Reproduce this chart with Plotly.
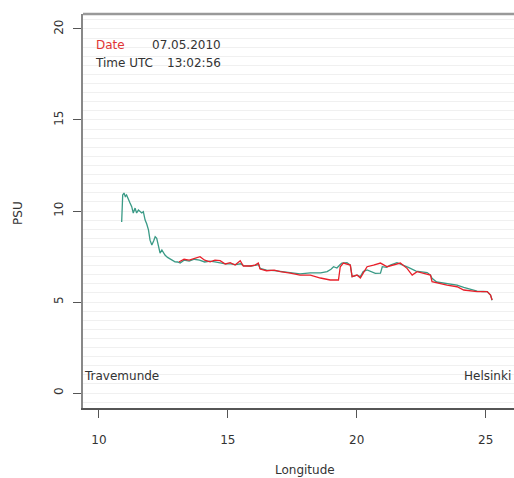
import plotly.graph_objects as go

# Teal track (longitude, salinity PSU)
lon_teal = [10.88, 10.90, 10.92, 10.97, 11.02, 11.07, 11.14, 11.20, 11.27, 11.33,
            11.40, 11.46, 11.53, 11.60, 11.66, 11.72, 11.79, 11.85, 11.92, 11.98,
            12.05, 12.12, 12.18, 12.24, 12.30, 12.37, 12.44, 12.50, 12.56, 12.66,
            12.76, 12.85, 12.95, 13.05, 13.15, 13.30, 13.50, 13.70, 13.90, 14.10,
            14.30, 14.50, 14.70, 14.90, 15.10, 15.30, 15.50, 15.60, 15.90, 16.10,
            16.20, 16.25, 16.50, 16.80, 17.00, 17.40, 17.80, 18.20, 18.60, 18.85,
            19.00, 19.10, 19.23, 19.35, 19.42, 19.62, 19.75, 19.82, 20.01, 20.14,
            20.25, 20.40, 20.55, 20.72, 20.92, 20.99, 21.15, 21.30, 21.56, 21.82,
            22.00, 22.30, 22.50, 22.73, 22.86, 22.92, 23.10, 23.37, 23.60, 23.89,
            24.15, 24.40, 24.67, 24.90, 25.06, 25.19, 25.25]
psu_teal = [9.40, 10.60, 10.88, 10.99, 10.80, 10.88, 10.60, 10.45, 10.24, 9.89,
            10.16, 9.89, 10.05, 9.95, 9.89, 9.96, 9.50, 9.30, 8.96, 8.40,
            8.13, 8.35, 8.59, 8.50, 8.04, 7.69, 7.86, 7.70, 7.58, 7.45,
            7.36, 7.30, 7.21, 7.20, 7.14, 7.30, 7.25, 7.35, 7.30, 7.20,
            7.25, 7.20, 7.15, 7.10, 7.10, 7.05, 7.10, 7.00, 6.98, 7.00,
            7.05, 6.85, 6.75, 6.72, 6.68, 6.62, 6.55, 6.60, 6.60, 6.67,
            6.80, 6.94, 6.87, 7.05, 7.14, 7.16, 7.03, 6.39, 6.48, 6.40,
            6.67, 6.76, 6.65, 6.57, 6.59, 6.94, 6.90, 7.03, 7.16, 7.03,
            6.90, 6.70, 6.65, 6.62, 6.48, 6.30, 6.10, 6.04, 6.00, 5.93,
            5.80, 5.70, 5.60, 5.58, 5.57, 5.38, 5.10]

# Red track
lon_red = [13.10, 13.30, 13.50, 13.70, 13.92, 14.10, 14.31, 14.50, 14.70, 14.90,
           15.09, 15.28, 15.48, 15.60, 15.87, 16.06, 16.18, 16.25, 16.50, 16.80,
           17.03, 17.42, 17.80, 18.20, 18.59, 18.97, 19.29, 19.36, 19.48, 19.75,
           19.82, 20.01, 20.14, 20.25, 20.40, 20.65, 20.92, 21.18, 21.43, 21.69,
           21.95, 22.15, 22.34, 22.59, 22.86, 22.92, 23.12, 23.50, 23.89, 24.15,
           24.67, 25.06, 25.19, 25.25]
psu_red = [7.20, 7.35, 7.30, 7.40, 7.49, 7.30, 7.21, 7.30, 7.27, 7.09,
           7.16, 7.03, 7.27, 6.98, 6.98, 7.03, 7.14, 6.81, 6.72, 6.75,
           6.67, 6.59, 6.48, 6.48, 6.32, 6.21, 6.21, 6.94, 7.14, 7.03,
           6.39, 6.48, 6.32, 6.59, 6.94, 7.03, 7.14, 6.94, 7.03, 7.14,
           6.85, 6.48, 6.67, 6.59, 6.48, 6.12, 6.04, 5.93, 5.84, 5.66,
           5.57, 5.57, 5.38, 5.11]

x_ticks = [10, 15, 20, 25]
y_ticks = [0, 5, 10, 15, 20]

FONT = "DejaVu Sans"
TXT = "#333333"

fig = go.Figure()
fig.add_trace(go.Scatter(x=lon_teal, y=psu_teal, mode="lines",
                         line=dict(color="#3a9a86", width=1.3), hoverinfo="skip"))
fig.add_trace(go.Scatter(x=lon_red, y=psu_red, mode="lines",
                         line=dict(color="#e8202a", width=1.3), hoverinfo="skip"))

fig.update_layout(
    width=514, height=478,
    margin=dict(l=83, r=0, t=14, b=70),
    paper_bgcolor="white", plot_bgcolor="white",
    showlegend=False,
    font=dict(family=FONT, size=12, color=TXT),
    xaxis=dict(range=[9.38, 26.10], tickvals=x_ticks, ticks="outside", ticklen=8,
               tickcolor="#555", showgrid=False, zeroline=False,
               showline=True, linecolor="#555", linewidth=1.5,
               tickfont=dict(family=FONT, size=12, color=TXT), ticklabelstandoff=12),
    yaxis=dict(range=[-0.82, 20.82], tickvals=y_ticks, ticks="outside", ticklen=8,
               tickcolor="#555", tickangle=-90, zeroline=False,
               showgrid=True, gridcolor="#f0f0f0", gridwidth=1,
               minor=dict(dtick=0.5, tick0=0, showgrid=True, gridcolor="#f0f0f0", gridwidth=1),
               showline=True, linecolor="#888", linewidth=2,
               tickfont=dict(family=FONT, size=12, color=TXT), ticklabelstandoff=5),
)

fig.add_shape(type="line", xref="paper", yref="paper", x0=0, x1=1, y0=1, y1=1,
              line=dict(color="#999", width=2.5))

ann = [
    dict(text="Date", x=9.845, y=19.12, xanchor="left", font=dict(color="#e03535")),
    dict(text="07.05.2010", x=12.02, y=19.12, xanchor="left"),
    dict(text="Time UTC", x=9.81, y=18.13, xanchor="left"),
    dict(text="13:02:56", x=12.6, y=18.13, xanchor="left"),
    dict(text="Travemunde", x=9.38, y=0.93, xanchor="left"),
    dict(text="Helsinki", x=26.02, y=0.93, xanchor="right"),
]
for a in ann:
    f = dict(family=FONT, size=12, color=TXT)
    f.update(a.pop("font", {}))
    fig.add_annotation(xref="x", yref="y", yanchor="middle", showarrow=False,
                       font=f, borderpad=0, **a)

fig.add_annotation(text="PSU", xref="paper", yref="paper", x=-0.151, y=0.495,
                   textangle=-90, showarrow=False, xanchor="center", yanchor="middle",
                   font=dict(family=FONT, size=12, color=TXT))
fig.add_annotation(text="Longitude", xref="paper", yref="paper", x=0.515, y=-0.157,
                   showarrow=False, xanchor="center", yanchor="middle",
                   font=dict(family=FONT, size=12, color=TXT))

fig.write_html(
    "out.html",
    config={"displayModeBar": False},
    post_script="document.body.style.margin='0';document.body.style.overflow='hidden';",
)
